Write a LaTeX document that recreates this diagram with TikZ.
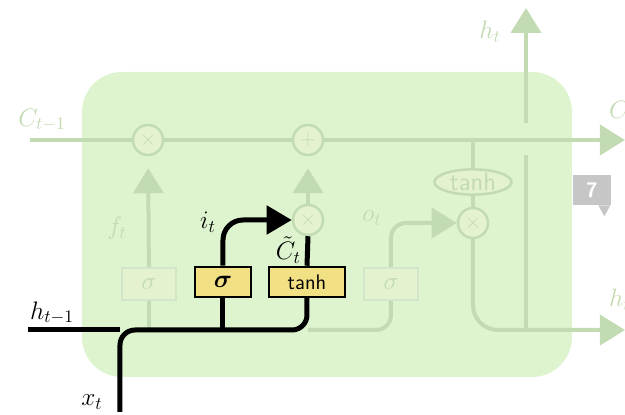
\documentclass[tikz,border=0pt]{standalone}
\usepackage{amsmath}
\usepackage{tikz}
\usetikzlibrary{arrows.meta,positioning,shapes.geometric}
\definecolor{cellfill}{RGB}{222,244,206}
\definecolor{faint}{RGB}{194,219,178}
\definecolor{faintfill}{RGB}{228,242,208}
\definecolor{gatey}{RGB}{241,224,132}
\definecolor{tabgrey}{RGB}{198,198,198}

\begin{document}
\begin{tikzpicture}[x=0.2mm,y=-0.2mm,
  dim/.style={draw=faint,line width=0.8mm},
  dimarr/.style={dim,-{Triangle[length=5mm,width=6mm]}},
  hot/.style={draw=black,line width=1mm},
  hotarr/.style={hot,-{Triangle[length=5mm,width=5.6mm]}},
  op/.style={circle,draw=faint,fill=faintfill,line width=0.5mm,minimum size=6mm,
             inner sep=0pt,text=faint,font=\large},
  dimgate/.style={draw=faint!70,fill=faintfill,line width=0.4mm,minimum width=10.8mm,
                  minimum height=6.4mm,inner sep=0pt,text=faint,font=\Large},
  gate/.style={draw=black,fill=gatey,line width=0.5mm,minimum height=6mm,inner sep=0pt},
  lbl/.style={font=\Large,text=faint},
  hotlbl/.style={font=\Large}]

\useasboundingbox (0,0) rectangle (625,415);
\fill[cellfill,rounded corners=8mm] (82,72) rectangle (572,377);

% gates and pointwise ops
\node[op] (fx) at (148,140) {$\times$};
\node[op] (ax) at (308,140) {$+$};
\node[op] (ix) at (308,220) {$\times$};
\node[op] (ox) at (473,223) {$\times$};
\node[ellipse,draw=faint,fill=faintfill,line width=0.5mm,text=faint,minimum width=15.4mm,
  minimum height=4.6mm,inner sep=0pt,font=\sffamily\Large] (th) at (473,182) {tanh};
\node[dimgate] (fs) at (149,284) {$\sigma$};
\node[dimgate] (os) at (391,284) {$\sigma$};

\coordinate (cin) at (30,140);
\coordinate (cout) at (625,140);
\coordinate (hin) at (28,330);
\coordinate (hout) at (625,330);
\coordinate (hup) at (526,8);
\coordinate (xin) at (120,412);

% faded part of the cell
\draw[dim] (cin) -- (fx) -- (ax);
\draw[dimarr] (ax) -- (cout);
\draw[dim] (fs) -- (fs.south |- hin);
\draw[dimarr,shorten >=2.4mm] (fs) -- (fx);
\draw[dimarr,shorten >=2.4mm] (ix) -- (ax);
\draw[dim,rounded corners=3mm] (308,330) -| (os.south);
\draw[dimarr,rounded corners=3mm] (os.north) |- (ox.west);
\draw[dim] (473,140) -- (th);
\draw[dim] (th) -- (ox);
\draw[dimarr,rounded corners=5mm] (ox) |- (hout);
\draw[dim] (526,330) -- (526,155);
\draw[dimarr] (526,123) -- (hup);

% input gate
\node[gate,minimum width=11.2mm,font=\Large] (is) at (223,282) {$\boldsymbol{\sigma}$};
\node[gate,minimum width=15.2mm,font=\sffamily\large] (ct) at (307,282) {tanh};
\coordinate (hj) at (ct.south |- hin);
\draw[hot] (hin) -- (xin |- hin);
\draw[hot,rounded corners=3mm] (xin) |- (hj) -- (ct.south);
\draw[hot] (is.south) -- (is.south |- hin);
\draw[hotarr,rounded corners=4mm] (is.north) |- (ix.west);
\draw[hot] (ct.north) -- (ix.south);

% labels
\node[lbl] (lc0) at (42,120) {$C_{t-1}$};
\node[lbl,anchor=west] (lc1) at (603,112) {$C_t$};
\node[lbl] (lf) at (117,228) {$f_t$};
\node[lbl] (lo) at (372,218) {$o_t$};
\node[lbl] (lh1) at (490,32) {$h_t$};
\node[lbl,anchor=west] (lh2) at (603,300) {$h_t$};
\node[hotlbl] (li) at (208,222) {$i_t$};
\node[hotlbl,anchor=east,inner sep=1pt] (lct) at (303,250) {$\tilde{C}_t$};
\node[hotlbl] (lx) at (92,402) {$x_t$};
\node[hotlbl] (lh0) at (52,313) {$h_{t-1}$};

\node[fill=tabgrey,text=white,minimum width=7.6mm,minimum height=6mm,
  font=\sffamily\bfseries\large] (tab) at (592,190) {7};
\fill[tabgrey] (tab.south east) ++(-13,0) -- ++(6,11) -- ++(6,-11) -- cycle;
\end{tikzpicture}
\end{document}
